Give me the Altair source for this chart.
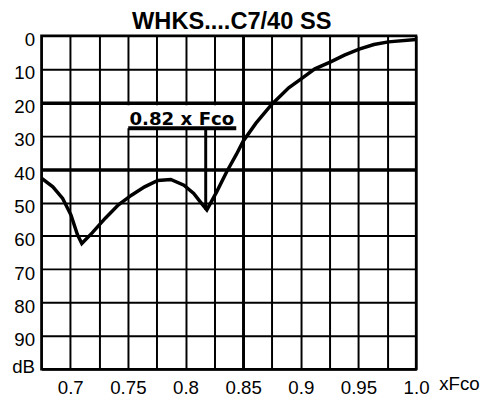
import altair as alt
import pandas as pd

# Curve (relative frequency x Fco, attenuation dB)
freq = [0.675, 0.6849, 0.6934, 0.7006, 0.7062, 0.71, 0.719, 0.7304, 0.7418, 0.7531,
        0.7645, 0.7759, 0.7872, 0.7986, 0.8071, 0.8128, 0.8185, 0.827, 0.8355, 0.8442,
        0.85, 0.8611, 0.8747, 0.8895, 0.9003, 0.9122, 0.9259, 0.9378, 0.9506, 0.9634,
        0.976, 1.0]
atten = [42.7, 45.3, 48.8, 53.7, 59.6, 62.3, 59.1, 54.7, 50.7, 47.8,
         45.3, 43.4, 43.1, 44.8, 47.3, 49.8, 52.2, 46.8, 40.9, 35.5,
         31.6, 26.2, 20.6, 15.6, 12.9, 9.9, 7.8, 5.8, 4.0, 2.6,
         1.8, 1.1]

x_grid = [0.675, 0.7, 0.725, 0.75, 0.775, 0.8, 0.825, 0.85, 0.875, 0.9,
          0.925, 0.95, 0.975, 1.0]
y_ticks = [0, 10, 20, 30, 40, 50, 60, 70, 80, 90, 100]

# Annotation "0.82 x Fco"
note_text = ["0.82 x Fco"]
note_x = [0.7513]
note_y = [26.6]
box_x = [0.7485]
box_x2 = [0.845]
box_y = [20.8]
box_y2 = [27.7]
under_x = [0.7503]
under_x2 = [0.844]
under_y = [27.7]
marker_x = [0.8175]
marker_top = [27.7]
marker_bottom = [52.2]

curve = pd.DataFrame({"f": freq, "db": atten})
note = pd.DataFrame({"t": note_text, "f": note_x, "db": note_y})
box_df = pd.DataFrame({"f": box_x, "bx2": box_x2, "db": box_y, "by2": box_y2})
under_df = pd.DataFrame({"f": under_x, "ux2": under_x2, "db": under_y})
marker_df = pd.DataFrame({"f": marker_x, "db": marker_top, "mb": marker_bottom})

xs = alt.Scale(domain=[0.675, 1.0], nice=False, zero=False)
ys = alt.Scale(domain=[0, 100], reverse=True, nice=False, zero=False)

FONT = "Liberation Sans"

xaxis = alt.Axis(
    values=x_grid, grid=True, gridColor="black", gridOpacity=1,
    gridWidth={"condition": {"test": "abs(datum.value - 0.85) < 0.001", "value": 3}, "value": 2},
    ticks=False, tickSize=0, domain=False,
    labelExpr="abs(datum.value*20 - round(datum.value*20)) < 0.001 ? (datum.value > 0.999 ? '1.0' : format(datum.value, '.2~f')) : ''",
    labelFont=FONT, labelFontSize=19, labelColor="black",
    labelBaseline="alphabetic", labelPadding=25,
    labelFlush=False, labelOverlap=False,
    title="xFco", titleFont=FONT, titleFontSize=19, titleFontWeight="normal",
    titleColor="black", titleAlign="left", titleBaseline="alphabetic",
    titleX=404, titleY=21, titleAnchor="start",
)
yaxis = alt.Axis(
    values=y_ticks, grid=True, gridColor="black", gridOpacity=1,
    gridWidth={"condition": {"test": "datum.value == 20 || datum.value == 40", "value": 3.5}, "value": 2},
    ticks=False, tickSize=0, domain=False,
    labelExpr="datum.value == 100 ? 'dB' : datum.label",
    labelFont=FONT, labelFontSize=19, labelColor="black", labelPadding=7,
    labelOffset={"condition": {"test": "datum.value == 100", "value": -3}, "value": 4},
    labelFlush=False, labelOverlap=False, title=None,
)

X = alt.X("f:Q", scale=xs, axis=xaxis)
Y = alt.Y("db:Q", scale=ys, axis=yaxis)

line = alt.Chart(curve).mark_line(color="black", strokeWidth=3.5).encode(x=X, y=Y)
box = alt.Chart(box_df).mark_rect(color="white").encode(x=X, x2="bx2:Q", y=Y, y2="by2:Q")
under = alt.Chart(under_df).mark_rule(color="black", strokeWidth=4).encode(x=X, x2="ux2:Q", y=Y)
marker = alt.Chart(marker_df).mark_rule(color="black", strokeWidth=3).encode(x=X, y=Y, y2="mb:Q")
text = alt.Chart(note).mark_text(align="left", baseline="alphabetic", font="DejaVu Sans",
                                 fontWeight="bold", fontSize=18.5, color="black").encode(
    x=X, y=Y, text="t:N")

chart = alt.layer(line, box, under, marker, text).properties(
    width=381, height=339,
    title=alt.Title("WHKS....C7/40 SS", font=FONT, fontSize=24, fontWeight="bold",
                    color="black", offset=2, dx=3, dy=5, anchor="middle"),
    autosize="none",
    padding={"left": 34, "top": 25, "right": 66, "bottom": 27},
    background="white",
).configure_view(stroke="black", strokeWidth=2.5)

chart.save("out.html", embed_options={"renderer": "svg", "actions": False})
